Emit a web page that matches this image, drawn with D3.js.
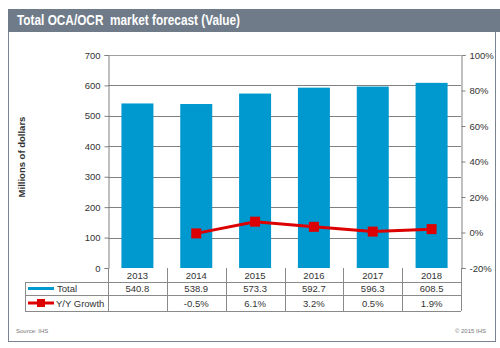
<!DOCTYPE html>
<html>
<head>
<meta charset="utf-8">
<script src="https://cdn.jsdelivr.net/npm/d3@7"></script>
<style>
  html, body { margin: 0; padding: 0; background: #fff; }
  svg { display: block; font-family: "Liberation Sans", Arial, sans-serif; }
</style>
</head>
<body>
<svg id="chart" width="500" height="348"></svg>
<script>
// === Data ===
const years = ['2013', '2014', '2015', '2016', '2017', '2018'];
const totals = [540.8, 538.9, 573.3, 592.7, 596.3, 608.5];
const growth = [null, -0.5, 6.1, 3.2, 0.5, 1.9];
const leftTicks = [0, 100, 200, 300, 400, 500, 600, 700];
const rightTicks = [-20, 0, 20, 40, 60, 80, 100];

// === Layout ===
const BLUE = '#0099cf';
const RED = '#dd0000';
const GRID = '#808080';
const TXT = '#333';
const plot = { left: 108, right: 461, top: 55, bottom: 268 };
const tableLeft = 25;
const rowH = [268, 282, 295, 311];

const svg = d3.select('#chart');

// --- frame + title bar ---
svg.append('rect')
  .attr('x', 8.5).attr('y', 9.5).attr('width', 487).attr('height', 332)
  .attr('fill', '#fff').attr('stroke', '#7a8490').attr('stroke-width', 1);
svg.append('rect')
  .attr('x', 8).attr('y', 9).attr('width', 492).attr('height', 23)
  .attr('fill', '#6f7b88');
svg.append('text')
  .attr('x', 17).attr('y', 25)
  .attr('fill', '#fff').attr('font-weight', 'bold').attr('font-size', 14)
  .attr('xml:space', 'preserve')
  .attr('textLength', 223).attr('lengthAdjust', 'spacingAndGlyphs')
  .text('Total OCA/OCR  market forecast (Value)');

// --- scales ---
const x = d3.scaleBand().domain(years).range([plot.left, plot.right]).paddingInner(0).paddingOuter(0);
const yL = d3.scaleLinear().domain([0, 700]).range([plot.bottom, plot.top]);
const yR = d3.scaleLinear().domain([-20, 100]).range([plot.bottom, plot.top]);

// --- gridlines ---
svg.append('g').selectAll('line')
  .data(leftTicks.filter(d => d > 0))
  .join('line')
  .attr('x1', plot.left).attr('x2', plot.right)
  .attr('y1', d => Math.round(yL(d)) + 0.5).attr('y2', d => Math.round(yL(d)) + 0.5)
  .attr('stroke', d => d === 700 ? '#a0a0a0' : GRID).attr('stroke-width', 1);

// --- bars ---
const barW = 32;
svg.append('g').selectAll('rect')
  .data(years.map((y, i) => ({ year: y, v: totals[i] })))
  .join('rect')
  .attr('x', d => x(d.year) + x.bandwidth() / 2 - barW / 2)
  .attr('y', d => yL(d.v))
  .attr('width', barW)
  .attr('height', d => plot.bottom - yL(d.v))
  .attr('fill', BLUE);

// --- axes ---
const leftAxis = svg.append('g')
  .attr('transform', `translate(${plot.left + 0.5},0)`)
  .call(d3.axisLeft(yL).tickValues(leftTicks).tickSize(4).tickPadding(4));
const rightAxis = svg.append('g')
  .attr('transform', `translate(${plot.right + 0.5},0)`)
  .call(d3.axisRight(yR).tickValues(rightTicks).tickSize(4).tickPadding(4).tickFormat(d => d + '%'));
[leftAxis, rightAxis].forEach(g => {
  g.select('.domain').attr('stroke', GRID);
  g.selectAll('.tick line').attr('stroke', GRID);
  g.selectAll('.tick text').attr('fill', TXT).attr('font-size', 9.5)
    .attr('font-family', '"Liberation Sans", Arial, sans-serif');
});

// --- y title ---
svg.append('text')
  .attr('transform', 'translate(25,157) rotate(-90)')
  .attr('text-anchor', 'middle')
  .attr('font-size', 9.5).attr('font-weight', 'bold').attr('fill', TXT)
  .text('Millions of dollars');

// --- growth line ---
const pts = years.map((y, i) => ({ year: y, v: growth[i] })).filter(d => d.v !== null);
const line = d3.line()
  .x(d => x(d.year) + x.bandwidth() / 2)
  .y(d => yR(d.v));
svg.append('path')
  .datum(pts)
  .attr('d', line)
  .attr('fill', 'none').attr('stroke', RED).attr('stroke-width', 3);
svg.append('g').selectAll('rect')
  .data(pts)
  .join('rect')
  .attr('x', d => x(d.year) + x.bandwidth() / 2 - 5)
  .attr('y', d => yR(d.v) - 5)
  .attr('width', 10).attr('height', 10)
  .attr('fill', RED);

// --- data table ---
const table = svg.append('g').attr('stroke', '#8a8a8a').attr('stroke-width', 1).attr('fill', 'none');
// horizontal lines
table.append('line').attr('x1', tableLeft).attr('x2', plot.right).attr('y1', rowH[1] + 0.5).attr('y2', rowH[1] + 0.5);
table.append('line').attr('x1', tableLeft).attr('x2', plot.right).attr('y1', rowH[2] + 0.5).attr('y2', rowH[2] + 0.5);
table.append('line').attr('x1', tableLeft).attr('x2', plot.right).attr('y1', rowH[3] + 0.5).attr('y2', rowH[3] + 0.5);
// vertical lines
table.append('line').attr('x1', tableLeft + 0.5).attr('x2', tableLeft + 0.5).attr('y1', rowH[1]).attr('y2', rowH[3]);
table.selectAll('line.v')
  .data(years.map(y => x(y)).concat([plot.right]))
  .join('line')
  .attr('class', 'v')
  .attr('x1', d => Math.round(d) + 0.5).attr('x2', d => Math.round(d) + 0.5)
  .attr('y1', plot.bottom).attr('y2', rowH[3]);

const cellText = (txt, cx, cy) => svg.append('text')
  .attr('x', cx).attr('y', cy).attr('text-anchor', 'middle')
  .attr('font-size', 9.5).attr('fill', TXT).text(txt);

years.forEach((y, i) => {
  const cx = x(y) + x.bandwidth() / 2;
  cellText(y, cx, 278.5);
  cellText(totals[i].toFixed(1), cx, 292);
  if (growth[i] !== null) cellText(growth[i].toFixed(1) + '%', cx, 307);
});

// legend keys in table
svg.append('line').attr('x1', 28).attr('x2', 54).attr('y1', 288.5).attr('y2', 288.5)
  .attr('stroke', BLUE).attr('stroke-width', 3);
svg.append('text').attr('x', 57).attr('y', 292).attr('font-size', 9.5).attr('fill', TXT).text('Total');
svg.append('line').attr('x1', 28).attr('x2', 54).attr('y1', 303).attr('y2', 303)
  .attr('stroke', RED).attr('stroke-width', 3);
svg.append('rect').attr('x', 37).attr('y', 299).attr('width', 8).attr('height', 8).attr('fill', RED);
svg.append('text').attr('x', 56).attr('y', 307).attr('font-size', 9.5).attr('fill', TXT).text('Y/Y Growth');

// --- footer ---
svg.append('text').attr('x', 16).attr('y', 333).attr('font-size', 6).attr('fill', '#777').text('Source: IHS');
svg.append('text').attr('x', 486).attr('y', 333).attr('text-anchor', 'end')
  .attr('font-size', 6).attr('fill', '#777').text('© 2015 IHS');
</script>
</body>
</html>
